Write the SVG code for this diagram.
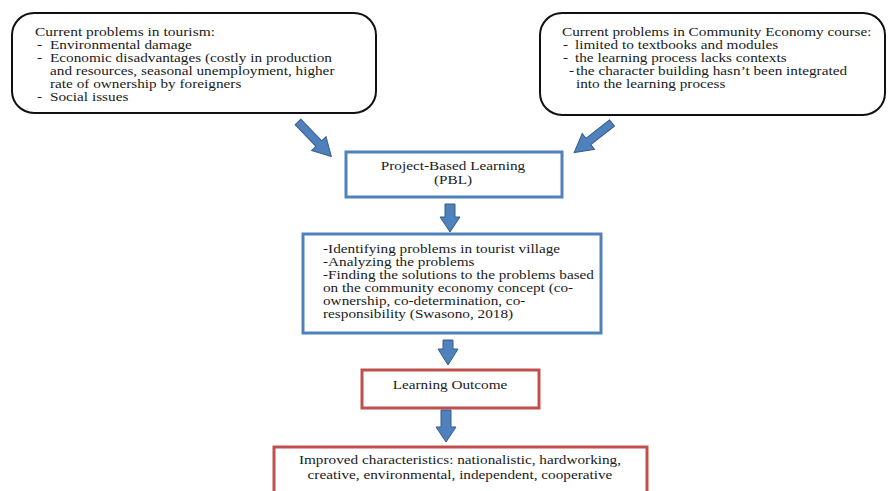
<svg xmlns="http://www.w3.org/2000/svg" width="890" height="491" viewBox="0 0 890 491">
<style>
text{font-family:"Liberation Serif","Times New Roman",serif;font-size:12.5px;fill:#1a1a1a}
.c{text-anchor:middle}
.rb{fill:#fff;stroke:#111;stroke-width:2}
.bb{fill:#fff;stroke:#4f81bd;stroke-width:3}
.red{fill:#fff;stroke:#c0504d;stroke-width:3}
.ar{fill:#4f81bd;stroke:#385d8a;stroke-width:1}
</style>
<rect width="890" height="491" fill="#fff"/>
<g id="tourism">
<rect class="rb" x="12" y="13" width="364" height="100" rx="22"/>
<text x="35" y="36" textLength="180" lengthAdjust="spacingAndGlyphs">Current problems in tourism:</text>
<text x="37" y="49" transform="matrix(1.22 0 0 1 -8.14 0)">-</text><text x="50" y="49" transform="matrix(1.22 0 0 1 -11 0)">Environmental damage</text>
<text x="37" y="62" transform="matrix(1.22 0 0 1 -8.14 0)">-</text><text x="50" y="62" transform="matrix(1.22 0 0 1 -11 0)">Economic disadvantages (costly in production</text>
<text x="50" y="75" transform="matrix(1.22 0 0 1 -11 0)">and resources, seasonal unemployment, higher</text>
<text x="50" y="88" transform="matrix(1.22 0 0 1 -11 0)">rate of ownership by foreigners</text>
<text x="37" y="101" transform="matrix(1.22 0 0 1 -8.14 0)">-</text><text x="50" y="101" transform="matrix(1.22 0 0 1 -11 0)">Social issues</text>
</g>
<g id="course">
<rect class="rb" x="540" y="13" width="345" height="102" rx="22"/>
<text x="562" y="36" transform="matrix(1.22 0 0 1 -123.64 0)">Current problems in Community Economy course:</text>
<text x="563" y="49" transform="matrix(1.22 0 0 1 -123.86 0)">-</text><text x="575" y="49" transform="matrix(1.22 0 0 1 -126.5 0)">limited to textbooks and modules</text>
<text x="563" y="62" transform="matrix(1.22 0 0 1 -123.86 0)">-</text><text x="575" y="62" transform="matrix(1.22 0 0 1 -126.5 0)">the learning process lacks contexts</text>
<text x="569" y="75" transform="matrix(1.22 0 0 1 -125.18 0)">-</text><text x="576" y="75" transform="matrix(1.22 0 0 1 -126.72 0)">the character building hasn’t been integrated</text>
<text x="576" y="88" transform="matrix(1.22 0 0 1 -126.72 0)">into the learning process</text>
</g>
<g id="pbl">
<rect class="bb" x="346" y="152" width="216" height="45"/>
<text class="c" x="453" y="170" transform="matrix(1.22 0 0 1 -99.66 0)">Project-Based Learning</text>
<text class="c" x="453" y="184" transform="matrix(1.22 0 0 1 -99.66 0)">(PBL)</text>
</g>
<g id="steps">
<rect class="bb" x="303" y="234" width="298" height="99"/>
<g transform="matrix(1.22 0 0 1 -71.06 0)">
<text x="323" y="253">-Identifying problems in tourist village</text>
<text x="323" y="266">-Analyzing the problems</text>
<text x="323" y="279">-Finding the solutions to the problems based</text>
<text x="323" y="292">on the community economy concept (co-</text>
<text x="323" y="305">ownership, co-determination, co-</text>
<text x="323" y="318">responsibility (Swasono, 2018)</text>
</g>
</g>
<g id="outcome">
<rect class="red" x="362" y="370" width="177" height="38"/>
<text class="c" x="450" y="389" transform="matrix(1.22 0 0 1 -99 0)">Learning Outcome</text>
</g>
<g id="characteristics">
<rect class="red" x="274" y="447" width="373" height="50"/>
<g transform="matrix(1.22 0 0 1 -101.2 0)">
<text class="c" x="460" y="464">Improved characteristics: nationalistic, hardworking,</text>
<text class="c" x="460" y="479">creative, environmental, independent, cooperative</text>
</g>
</g>
<g id="connectors">
<path class="ar" d="M-4,0 L4,0 L4,-30 L10,-30 L0,-48 L-10,-30 L-4,-30 Z" transform="translate(298,122) rotate(136)"/>
<path class="ar" d="M-4,0 L4,0 L4,-30 L10,-30 L0,-48 L-10,-30 L-4,-30 Z" transform="translate(612,123) rotate(-128)"/>
<path class="ar" d="M445,204 L455,204 L455,217 L460,217 L450,232 L440,217 L445,217 Z"/>
<path class="ar" d="M443,340 L453,340 L453,349 L458,349 L448,365 L438,349 L443,349 Z"/>
<path class="ar" d="M441,410 L451,410 L451,427 L456,427 L446,442 L436,427 L441,427 Z"/>
</g>
</svg>
